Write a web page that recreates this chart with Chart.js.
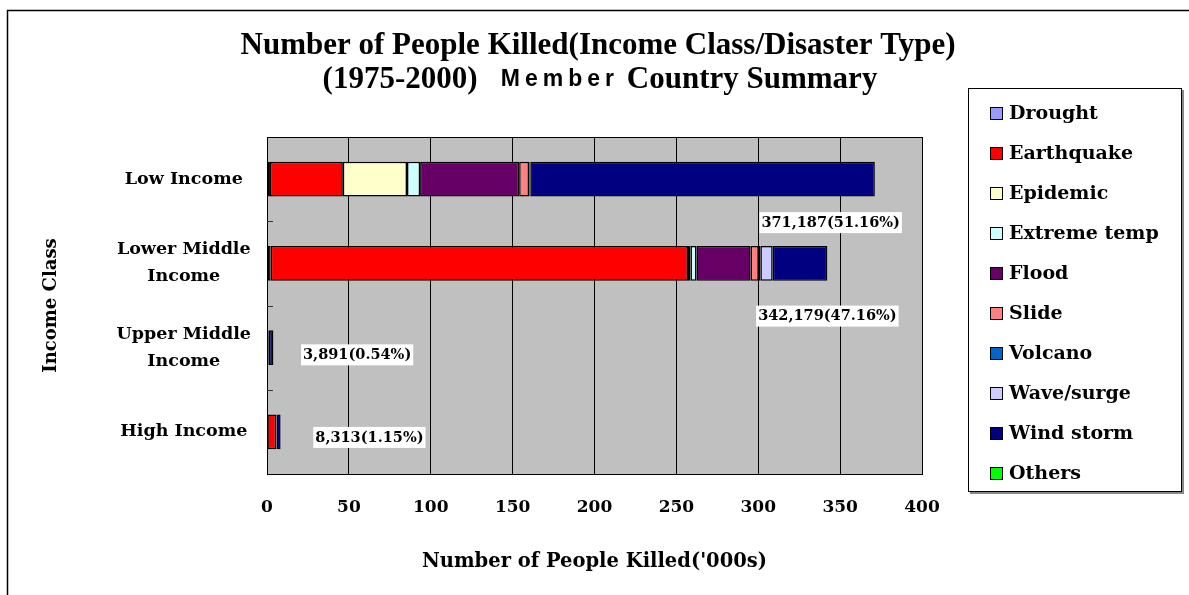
<!DOCTYPE html>
<html>
<head>
<meta charset="utf-8">
<script src="https://cdn.jsdelivr.net/npm/chart.js@4.4.1/dist/chart.umd.min.js"></script>
<style>
    html, body { margin: 0; padding: 0; background: #fff; }
    #wrap { width: 1189px; height: 595px; }
</style>
</head>
<body>
<div id="wrap"><canvas id="killedChart" width="1189" height="595"></canvas></div>
<script>
// categories (y axis) and disaster types (stacked series)
const incomeClasses = [['Low Income'], ['Lower Middle', 'Income'], ['Upper Middle', 'Income'], ['High Income']];
const disasterTypes = ['Drought', 'Earthquake', 'Epidemic', 'Extreme temp', 'Flood', 'Slide', 'Volcano', 'Wave/surge', 'Wind storm', 'Others'];

// people killed, thousands, per income class
const drought     = [1.8,   2.2,   0.1, 0.2];
const earthquake  = [44.5,  254.9, 0.5, 5.4];
const epidemic    = [39.2,  1.5,   0.0, 0.0];
const extremeTemp = [8.0,   3.7,   0.0, 0.0];
const flood       = [60.5,  33.0,  0.4, 0.2];
const slide       = [6.0,   5.0,   0.2, 0.0];
const volcano     = [0.3,   1.0,   0.0, 0.0];
const waveSurge   = [0.5,   7.5,   0.0, 0.0];
const windStorm   = [210.4, 33.4,  2.7, 2.5];
const others      = [0.0,   0.0,   0.0, 0.0];

// totals shown in the labels (people)
const totalKilled = [371187, 342179, 3891, 8313];

const xTicks = [0, 50, 100, 150, 200, 250, 300, 350, 400];

const seriesValues = [drought, earthquake, epidemic, extremeTemp, flood, slide, volcano, waveSurge, windStorm, others];
const seriesColors = ['#9999FF', '#FF0000', '#FFFFCC', '#CCFFFF', '#660066', '#FF8080', '#0066CC', '#CCCCFF', '#000080', '#00FF00'];

const serif = "'DejaVu Serif', serif";
const titleFont = "bold 31px 'Liberation Serif', serif";
const memberFont = "bold 23px 'Liberation Sans Narrow', 'Liberation Sans', sans-serif";

function fmt(n) {
    return n.toString().replace(/\B(?=(\d{3})+(?!\d))/g, ',');
}

// backgrounds, plot frame, title, legend and total labels
const decorPlugin = {
    id: 'decor',
    beforeDraw(chart) {
        const { ctx, chartArea: a } = chart;
        ctx.save();
        ctx.fillStyle = '#fff';
        ctx.fillRect(0, 0, chart.width, chart.height);
        ctx.strokeStyle = '#000';
        ctx.lineWidth = 1.5;
        ctx.strokeRect(7.5, 10.5, chart.width + 20, chart.height + 20);
        ctx.fillStyle = '#C0C0C0';
        ctx.fillRect(a.left, a.top, a.right - a.left, a.bottom - a.top);
        ctx.restore();
    },
    beforeDatasetsDraw(chart) {
        const { ctx, chartArea: a, scales } = chart;
        ctx.save();
        ctx.strokeStyle = '#000';
        ctx.lineWidth = 1;
        ctx.strokeRect(Math.round(a.left) + 0.5, Math.round(a.top) + 0.5, a.right - a.left, a.bottom - a.top);
        // small inside tick marks between categories
        const y = scales.y;
        const step = (y.bottom - y.top) / incomeClasses.length;
        ctx.strokeStyle = '#333';
        for (let i = 1; i < incomeClasses.length; i++) {
            const py = Math.round(y.top + step * i) + 0.5;
            ctx.beginPath();
            ctx.moveTo(a.left, py);
            ctx.lineTo(a.left + 6, py);
            ctx.stroke();
        }
        ctx.restore();
    },
    afterDraw(chart, args, opts) {
        const { ctx, scales } = chart;
        ctx.save();

        // title
        ctx.fillStyle = '#000';
        ctx.textBaseline = 'middle';
        ctx.textAlign = 'center';
        ctx.font = titleFont;
        ctx.fillText('Number of People Killed(Income Class/Disaster Type)', 598, 46);

        const partA = '(1975-2000)   ';
        const partB = 'Member';
        const partC = ' Country Summary';
        ctx.textAlign = 'left';
        ctx.font = titleFont;
        const wA = ctx.measureText(partA).width;
        const wC = ctx.measureText(partC).width;
        ctx.font = memberFont;
        ctx.letterSpacing = '5px';
        const wB = ctx.measureText(partB).width;
        ctx.letterSpacing = '0px';
        let x0 = 600 - (wA + wB + wC) / 2;
        ctx.font = titleFont;
        ctx.fillText(partA, x0, 80);
        ctx.font = memberFont;
        ctx.letterSpacing = '5px';
        ctx.fillText(partB, x0 + wA, 80);
        ctx.letterSpacing = '0px';
        ctx.font = titleFont;
        ctx.fillText(partC, x0 + wA + wB, 80);

        // legend box
        ctx.fillStyle = '#888';
        ctx.fillRect(1182, 90, 2, 404);
        ctx.fillRect(970, 492, 214, 2);
        ctx.strokeStyle = '#000';
        ctx.lineWidth = 1;
        ctx.strokeRect(968.5, 88.5, 213, 403);
        ctx.font = 'bold 19px ' + serif;
        chart.data.datasets.forEach((ds, i) => {
            const cy = 113 + i * 40;
            ctx.fillStyle = ds.backgroundColor;
            ctx.fillRect(990, cy - 6, 12, 12);
            ctx.strokeStyle = '#000';
            ctx.strokeRect(990.5, cy - 5.5, 12, 12);
            ctx.fillStyle = '#000';
            ctx.fillText(ds.label, 1009, cy + 1);
        });

        // total labels
        const grand = totalKilled.reduce((s, v) => s + v, 0);
        const xs = scales.x, ys = scales.y;
        const step = (ys.bottom - ys.top) / incomeClasses.length;
        ctx.font = 'bold 14.5px ' + serif;
        opts.spots.forEach((spot, i) => {
            const text = fmt(totalKilled[i]) + '(' + (totalKilled[i] / grand * 100).toFixed(2) + '%)';
            const w = ctx.measureText(text).width;
            const px = xs.getPixelForValue(spot.x);
            const left = spot.align === 'right' ? px - w : px;
            const cy = ys.getPixelForValue(i) + spot.dy * step;
            ctx.fillStyle = '#fff';
            ctx.fillRect(left - 2, cy - 10, w + 4, 21);
            ctx.fillStyle = '#000';
            ctx.fillText(text, left, cy + 1);
        });
        ctx.restore();
    }
};

const ctx = document.getElementById('killedChart');
new Chart(ctx, {
    type: 'bar',
    data: {
        labels: incomeClasses,
        datasets: disasterTypes.map((name, i) => ({
            label: name,
            data: seriesValues[i],
            backgroundColor: seriesColors[i],
            borderColor: '#000',
            borderWidth: 1.5,
            borderSkipped: false
        }))
    },
    options: {
        indexAxis: 'y',
        responsive: false,
        animation: false,
        devicePixelRatio: 1,
        layout: { padding: { top: 137, right: 267, bottom: 0, left: 0 } },
        datasets: { bar: { categoryPercentage: 1, barPercentage: 0.415 } },
        plugins: {
            legend: { display: false },
            tooltip: { enabled: false },
            decor: {
                spots: [
                    { x: 386.5, align: 'right', dy: 0.51 },
                    { x: 384.5, align: 'right', dy: 0.62 },
                    { x: 22, align: 'left', dy: 0.08 },
                    { x: 29.5, align: 'left', dy: 0.06 }
                ]
            }
        },
        scales: {
            x: {
                stacked: true,
                min: 0,
                max: 400,
                afterBuildTicks: (s) => { s.ticks = xTicks.map(v => ({ value: v })); },
                afterFit: (s) => { s.height = 121; },
                grid: { color: '#000', lineWidth: 1, drawTicks: false },
                border: { color: '#000', width: 1 },
                ticks: { padding: 23, color: '#000', font: { family: serif, size: 17, weight: 'bold' } },
                title: {
                    display: true,
                    text: "Number of People Killed('000s)",
                    color: '#000',
                    font: { family: serif, size: 19.5, weight: 'bold' },
                    padding: { top: 0, bottom: 21 }
                }
            },
            y: {
                stacked: true,
                afterFit: (s) => { s.width = 267; },
                grid: { display: false, drawTicks: false },
                border: { color: '#000', width: 1 },
                ticks: {
                    crossAlign: 'center',
                    padding: 16,
                    color: '#000',
                    font: { family: serif, size: 17.5, weight: 'bold', lineHeight: 1.55 }
                },
                title: {
                    display: true,
                    text: 'Income Class',
                    color: '#000',
                    font: { family: serif, size: 18, weight: 'bold' },
                    padding: { top: 41, bottom: 0 }
                }
            }
        }
    },
    plugins: [decorPlugin]
});
</script>
</body>
</html>
